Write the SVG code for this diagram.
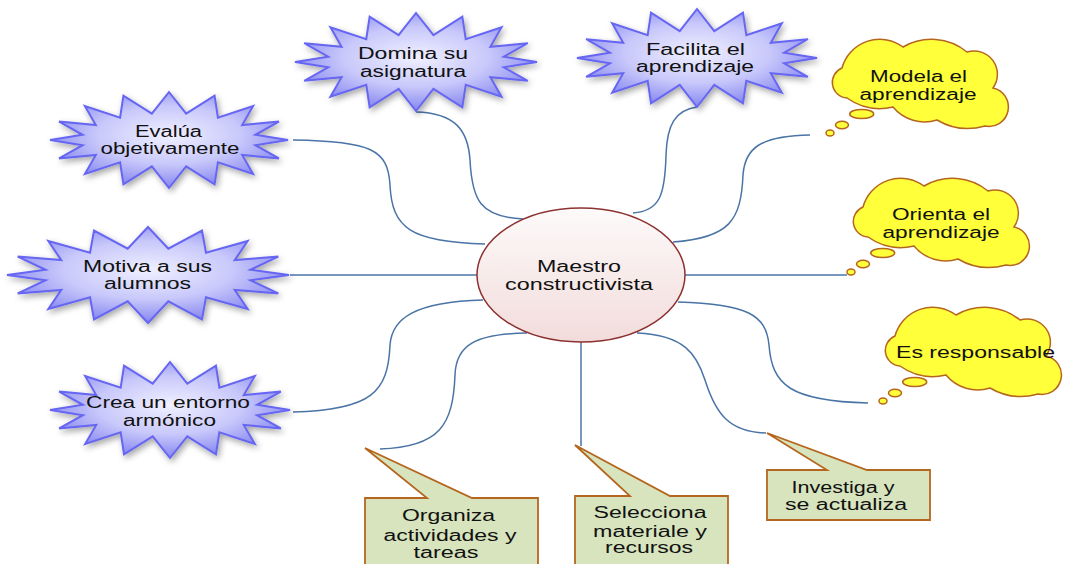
<svg xmlns="http://www.w3.org/2000/svg" width="1071" height="564" viewBox="0 0 1071 564">
<style>
.t{font-family:"Liberation Sans",Arial,sans-serif;font-size:16px;fill:#111;text-anchor:middle}
.conn{fill:none;stroke:#4a74a6;stroke-width:1.5}
.starp{fill:url(#starGrad);stroke:#6666f2;stroke-width:2;vector-effect:non-scaling-stroke;stroke-linejoin:miter}
.cloud{fill:#ffff3a;stroke:#b5661e;stroke-width:1.5}
.callout{fill:#d7e4bd;stroke:#b5661e;stroke-width:1.8}
</style>
<defs>
<radialGradient id="starGrad" cx="0.5" cy="0.45" r="0.55">
<stop offset="0" stop-color="#f0f0ff"/>
<stop offset="0.55" stop-color="#c8c8fb"/>
<stop offset="1" stop-color="#8585f0"/>
</radialGradient>
<linearGradient id="ellGrad" x1="0" y1="0" x2="0" y2="1">
<stop offset="0" stop-color="#fdfafa"/>
<stop offset="1" stop-color="#f2dcdb"/>
</linearGradient>
<filter id="shadow" x="-20%" y="-30%" width="140%" height="170%">
<feDropShadow dx="2" dy="3" stdDeviation="3" flood-color="#000" flood-opacity="0.35"/>
</filter>
<polygon id="star" class="starp" points="1,0 0.726,-0.109 0.924,-0.383 0.615,-0.311 0.707,-0.707 0.411,-0.466 0.383,-0.924 0.144,-0.549 0,-1 -0.144,-0.549 -0.383,-0.924 -0.411,-0.466 -0.707,-0.707 -0.615,-0.311 -0.924,-0.383 -0.726,-0.109 -1,0 -0.726,0.109 -0.924,0.383 -0.615,0.311 -0.707,0.707 -0.411,0.466 -0.383,0.924 -0.144,0.549 0,1 0.144,0.549 0.383,0.924 0.411,0.466 0.707,0.707 0.615,0.311 0.924,0.383 0.726,0.109"/>
<g id="cloud">
<path class="cloud" d="M18,58 A15.6,15.6 0 0 1 13,28 A39,39 0 0 1 74,7 A56.5,56.5 0 0 1 138,12 A23.4,23.4 0 0 1 164,48 A19.4,19.4 0 0 1 156,86 A61,61 0 0 1 108,80 A41,41 0 0 1 64,67 A57,57 0 0 1 18,58 Z"/>
<ellipse class="cloud" cx="32.7" cy="74" rx="12" ry="4.5"/>
<ellipse class="cloud" cx="13" cy="85" rx="6.5" ry="3.7"/>
<ellipse class="cloud" cx="1" cy="93" rx="4" ry="3"/>
</g>
</defs>

<g id="connectors">
<path class="conn" d="M293,140 C372,141 388,150 390,185 C392,228 410,242 485,244"/>
<path class="conn" d="M416,112 C455,113 468,130 470,160 C472,200 480,217 523,219"/>
<path class="conn" d="M697,107 C675,110 667,125 666,155 C665,195 660,211 633,213"/>
<path class="conn" d="M810,135 C760,136 745,148 743,175 C741,220 730,238 673,242"/>
<path class="conn" d="M290,275 L477,275"/>
<path class="conn" d="M685,275 L847,275"/>
<path class="conn" d="M678,302 C748,304 766,315 769,345 C772,385 790,401 868,403"/>
<path class="conn" d="M637,333 C685,335 697,355 705,380 C716,415 730,432 766,433"/>
<path class="conn" d="M483,300 C415,302 392,318 390,345 C388,392 372,410 293,412"/>
<path class="conn" d="M527,333 C475,334 456,345 455,375 C453,425 440,447 380,449"/>
<path class="conn" d="M581,342 L581,446"/>
</g>

<g id="center">
<ellipse cx="581" cy="275" rx="104" ry="67" fill="url(#ellGrad)" stroke="#8c3030" stroke-width="1.5"/>
<text class="t" x="579" y="272" textLength="84" lengthAdjust="spacingAndGlyphs">Maestro</text>
<text class="t" x="579" y="290" textLength="148" lengthAdjust="spacingAndGlyphs">constructivista</text>
</g>

<g id="evalua">
<g filter="url(#shadow)"><use href="#star" transform="translate(169,140) scale(119,48)"/></g>
<text class="t" x="168.5" y="137" textLength="67" lengthAdjust="spacingAndGlyphs">Evalúa</text>
<text class="t" x="170" y="154" textLength="139" lengthAdjust="spacingAndGlyphs">objetivamente</text>
</g>

<g id="motiva">
<g filter="url(#shadow)"><use href="#star" transform="translate(148,275) scale(141,48)"/></g>
<text class="t" x="147.5" y="272" textLength="129" lengthAdjust="spacingAndGlyphs">Motiva a sus</text>
<text class="t" x="147.5" y="289" textLength="87" lengthAdjust="spacingAndGlyphs">alumnos</text>
</g>

<g id="crea">
<g filter="url(#shadow)"><use href="#star" transform="translate(170,410) scale(120,48)"/></g>
<text class="t" x="168" y="408" textLength="164" lengthAdjust="spacingAndGlyphs">Crea un entorno</text>
<text class="t" x="169.5" y="426" textLength="93" lengthAdjust="spacingAndGlyphs">armónico</text>
</g>

<g id="domina">
<g filter="url(#shadow)"><use href="#star" transform="translate(416,62) scale(121,49)"/></g>
<text class="t" x="413" y="59" textLength="110" lengthAdjust="spacingAndGlyphs">Domina su</text>
<text class="t" x="413" y="77" textLength="106" lengthAdjust="spacingAndGlyphs">asignatura</text>
</g>

<g id="facilita">
<g filter="url(#shadow)"><use href="#star" transform="translate(697,58) scale(120,49)"/></g>
<text class="t" x="695.5" y="55" textLength="99" lengthAdjust="spacingAndGlyphs">Facilita el</text>
<text class="t" x="695" y="72" textLength="118" lengthAdjust="spacingAndGlyphs">aprendizaje</text>
</g>

<g id="modela">
<use href="#cloud" transform="translate(829,40)"/>
<text class="t" x="918.5" y="82" textLength="97" lengthAdjust="spacingAndGlyphs">Modela el</text>
<text class="t" x="918" y="100" textLength="117" lengthAdjust="spacingAndGlyphs">aprendizaje</text>
</g>

<g id="orienta">
<use href="#cloud" transform="translate(850,179)"/>
<text class="t" x="941" y="220" textLength="98" lengthAdjust="spacingAndGlyphs">Orienta el</text>
<text class="t" x="941" y="238" textLength="117" lengthAdjust="spacingAndGlyphs">aprendizaje</text>
</g>

<g id="responsable">
<use href="#cloud" transform="translate(882,308)"/>
<text class="t" x="975.5" y="358" textLength="159" lengthAdjust="spacingAndGlyphs">Es responsable</text>
</g>

<g id="organiza">
<path class="callout" d="M365,498 L427,498 L365,448 L472,498 L538,498 L538,575 L365,575 Z"/>
<text class="t" x="448.5" y="521" textLength="93" lengthAdjust="spacingAndGlyphs">Organiza</text>
<text class="t" x="450" y="541" textLength="133" lengthAdjust="spacingAndGlyphs">actividades y</text>
<text class="t" x="446" y="558" textLength="65" lengthAdjust="spacingAndGlyphs">tareas</text>
</g>

<g id="selecciona">
<path class="callout" d="M575,496 L630,496 L575,445 L670,496 L728,496 L728,575 L575,575 Z"/>
<text class="t" x="650" y="518" textLength="113" lengthAdjust="spacingAndGlyphs">Selecciona</text>
<text class="t" x="650" y="537" textLength="114" lengthAdjust="spacingAndGlyphs">materiale y</text>
<text class="t" x="649" y="553" textLength="88" lengthAdjust="spacingAndGlyphs">recursos</text>
</g>

<g id="investiga">
<path class="callout" d="M767,470 L827,470 L767,433 L867,470 L930,470 L930,520 L767,520 Z"/>
<text class="t" x="843" y="493" textLength="103" lengthAdjust="spacingAndGlyphs">Investiga y</text>
<text class="t" x="846" y="510" textLength="122" lengthAdjust="spacingAndGlyphs">se actualiza</text>
</g>
</svg>
